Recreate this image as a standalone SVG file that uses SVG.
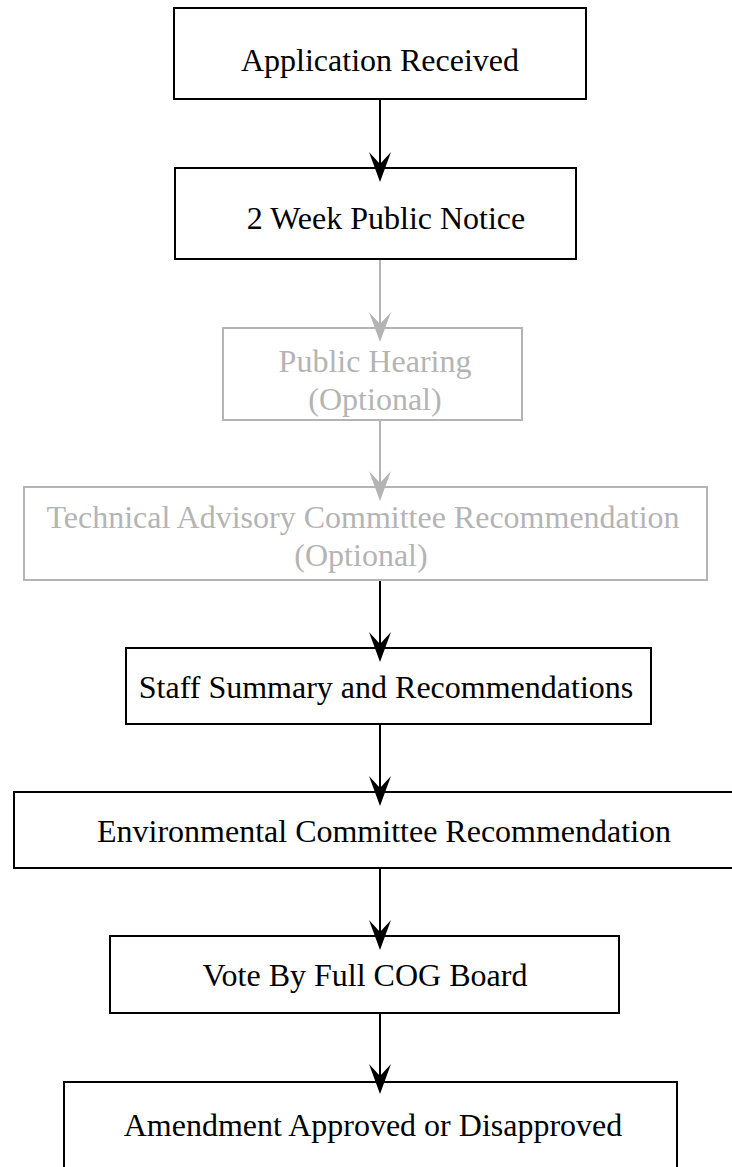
<svg xmlns="http://www.w3.org/2000/svg" width="732" height="1167" viewBox="0 0 732 1167">
<style>
.box{fill:#fff;stroke:#000;stroke-width:2}
.gbox{fill:#fff;stroke:#b4b4b4;stroke-width:2}
.t{font-family:"Liberation Serif","Times New Roman",serif;font-size:32px;text-anchor:middle;fill:#000}
.gt{font-family:"Liberation Serif","Times New Roman",serif;font-size:32px;text-anchor:middle;fill:#b4b4b4}
.c{stroke:#000;stroke-width:2;fill:none}
.gc{stroke:#b4b4b4;stroke-width:2;fill:none}
.h{fill:#000}
.gh{fill:#b4b4b4}
</style>
<rect width="732" height="1167" fill="#fff"/>
<g id="n1"><rect class="box" x="174" y="8" width="412" height="91"/><text class="t" x="380" y="71">Application Received</text></g>
<g id="n2"><rect class="box" x="175" y="168" width="401" height="91"/><text class="t" x="386" y="229">2 Week Public Notice</text></g>
<g id="n3"><rect class="gbox" x="223" y="328" width="299" height="92"/><text class="gt" x="375" y="372">Public Hearing</text><text class="gt" x="375" y="410">(Optional)</text></g>
<g id="n4"><rect class="gbox" x="24" y="487" width="683" height="93"/><text class="gt" x="363" y="528">Technical Advisory Committee Recommendation</text><text class="gt" x="361" y="566">(Optional)</text></g>
<g id="n5"><rect class="box" x="126" y="648" width="525" height="76"/><text class="t" x="386" y="698">Staff Summary and Recommendations</text></g>
<g id="n6"><rect class="box" x="14" y="792" width="730" height="76"/><text class="t" x="384" y="842">Environmental Committee Recommendation</text></g>
<g id="n7"><rect class="box" x="110" y="936" width="509" height="77"/><text class="t" x="365" y="986">Vote By Full COG Board</text></g>
<g id="n8"><rect class="box" x="64" y="1082" width="613" height="100"/><text class="t" x="373" y="1136">Amendment Approved or Disapproved</text></g>
<g id="connectors">
<line class="c" x1="380" y1="99" x2="380" y2="168"/><path class="h" d="M380,182 L369,152 L380,164 L391,152 Z"/>
<line class="gc" x1="380" y1="260" x2="380" y2="328"/><path class="gh" d="M380,342 L369,312 L380,324 L391,312 Z"/>
<line class="gc" x1="380" y1="421" x2="380" y2="487"/><path class="gh" d="M380,501 L369,471 L380,483 L391,471 Z"/>
<line class="c" x1="380" y1="581" x2="380" y2="648"/><path class="h" d="M380,662 L369,632 L380,644 L391,632 Z"/>
<line class="c" x1="380" y1="724" x2="380" y2="792"/><path class="h" d="M380,806 L369,776 L380,788 L391,776 Z"/>
<line class="c" x1="380" y1="868" x2="380" y2="936"/><path class="h" d="M380,950 L369,920 L380,932 L391,920 Z"/>
<line class="c" x1="380" y1="1013" x2="380" y2="1082"/><path class="h" d="M380,1094 L369,1064 L380,1076 L391,1064 Z"/>
</g>
</svg>
